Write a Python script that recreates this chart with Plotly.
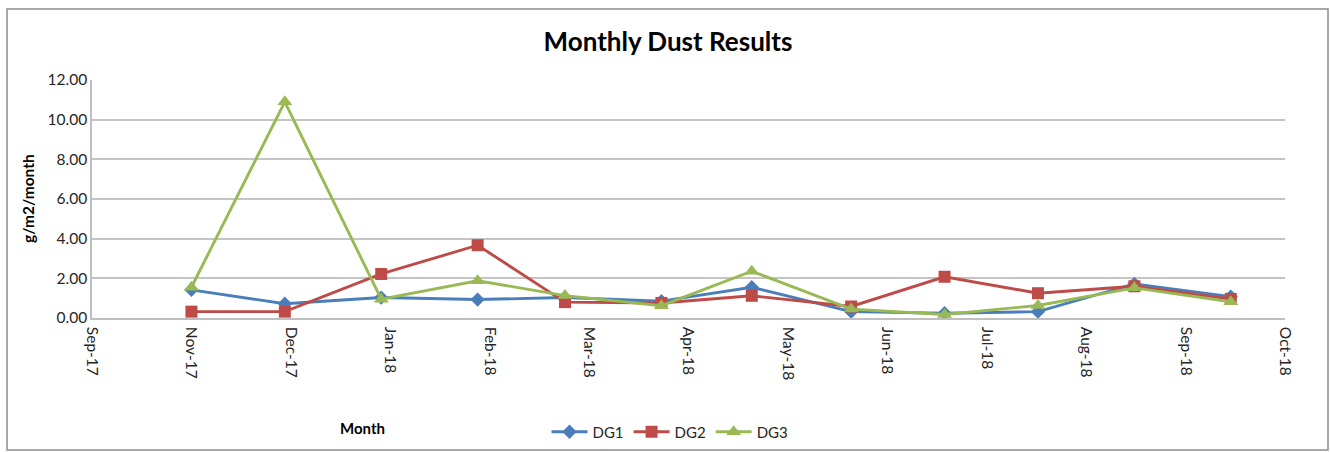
import plotly.graph_objects as go
import pandas as pd

# ---- data ----
sample_dates = ["2017-11-02", "2017-12-03", "2018-01-04", "2018-02-05", "2018-03-06",
                "2018-04-07", "2018-05-07", "2018-06-09", "2018-07-10", "2018-08-10",
                "2018-09-11", "2018-10-13"]
dg1 = [1.42, 0.72, 1.03, 0.93, 1.03, 0.85, 1.55, 0.32, 0.24, 0.32, 1.72, 1.08]
dg2 = [0.32, 0.32, 2.22, 3.67, 0.80, 0.76, 1.12, 0.58, 2.08, 1.25, 1.60, 0.96]
dg3 = [1.55, 10.90, 0.95, 1.88, 1.13, 0.62, 2.36, 0.45, 0.18, 0.63, 1.52, 0.82]
series_names = ["DG1", "DG2", "DG3"]
tick_labels = ["Sep-17", "Nov-17", "Dec-17", "Jan-18", "Feb-18", "Mar-18", "Apr-18",
               "May-18", "Jun-18", "Jul-18", "Aug-18", "Sep-18", "Oct-18"]
axis_start = "2017-09-30"
axis_end = "2018-10-31"
y_ticks = [0, 2, 4, 6, 8, 10, 12]

colors = ["#4A7EBB", "#BE4B48", "#98B954"]
symbols = ["diamond", "square", "triangle-up"]
msizes = [11, 12, 13]

tick_vals = pd.date_range(axis_start, periods=len(tick_labels), freq="33D")

FONT = "Lato"

fig = go.Figure()
for name, vals, c, s, ms in zip(series_names, [dg1, dg2, dg3], colors, symbols, msizes):
    fig.add_trace(go.Scatter(
        x=sample_dates, y=vals, name=name, mode="lines+markers",
        line=dict(color=c, width=2.9),
        marker=dict(symbol=s, size=ms, color=c, line=dict(width=0)),
    ))

W, H = 1330, 452
L, R, T, B = 92, 45, 80, 134
pw, ph = W - L - R, H - T - B


def px(x):
    return (x - L) / pw


def py(y):
    return (H - B - y) / ph


fig.update_layout(
    width=W, height=H,
    margin=dict(l=L, r=R, t=T, b=B, autoexpand=False),
    paper_bgcolor="white", plot_bgcolor="white",
    font=dict(family=FONT, size=15, color="#262626"),
    title=dict(text="<b>Monthly Dust Results</b>", x=px(668), xref="paper",
               xanchor="center", y=1 - 42 / H, yref="container", yanchor="middle",
               font=dict(family=FONT, size=26, color="#000000")),
    xaxis=dict(type="date", range=[axis_start, axis_end], tickmode="array",
               tickvals=tick_vals, ticktext=tick_labels, tickangle=90, automargin=False,
               showgrid=False, zeroline=False, showline=True, linecolor="#BFBFBF",
               linewidth=1.5, ticks="", ticklabelstandoff=4,
               tickfont=dict(family=FONT, size=15.5, color="#262626")),
    yaxis=dict(range=[0, 12], tickvals=y_ticks, tickformat=".2f", automargin=False,
               showgrid=True, gridcolor="#C4C4C4", gridwidth=1.5,
               zeroline=False, showline=True, linecolor="#BFBFBF", linewidth=1.5,
               ticks="", tickfont=dict(family=FONT, size=15.5, color="#262626")),
    legend=dict(orientation="h", x=px(670), xanchor="center", y=py(432), yanchor="middle",
                font=dict(family=FONT, size=15, color="#262626"), itemwidth=36,
                bgcolor="rgba(0,0,0,0)"),
    showlegend=True,
)

fig.add_annotation(text="<b>g/m2/month</b>", x=px(28), y=0.5, xref="paper", yref="paper",
                   textangle=-90, showarrow=False, xanchor="center", yanchor="middle",
                   font=dict(family=FONT, size=15.5, color="#000000"))
fig.add_annotation(text="<b>Month</b>", x=px(362), y=py(428), xref="paper", yref="paper",
                   showarrow=False, xanchor="center", yanchor="middle",
                   font=dict(family=FONT, size=15, color="#000000"))

fig.add_shape(type="rect", xref="paper", yref="paper",
              x0=px(7), x1=px(1328), y0=py(450), y1=py(9),
              line=dict(color="#8C8C8C", width=1.5), fillcolor="rgba(0,0,0,0)", layer="below")

fig.write_html("out.html", config={"displayModeBar": False},
               post_script="document.body.style.margin='0px';document.body.style.padding='0px';")
